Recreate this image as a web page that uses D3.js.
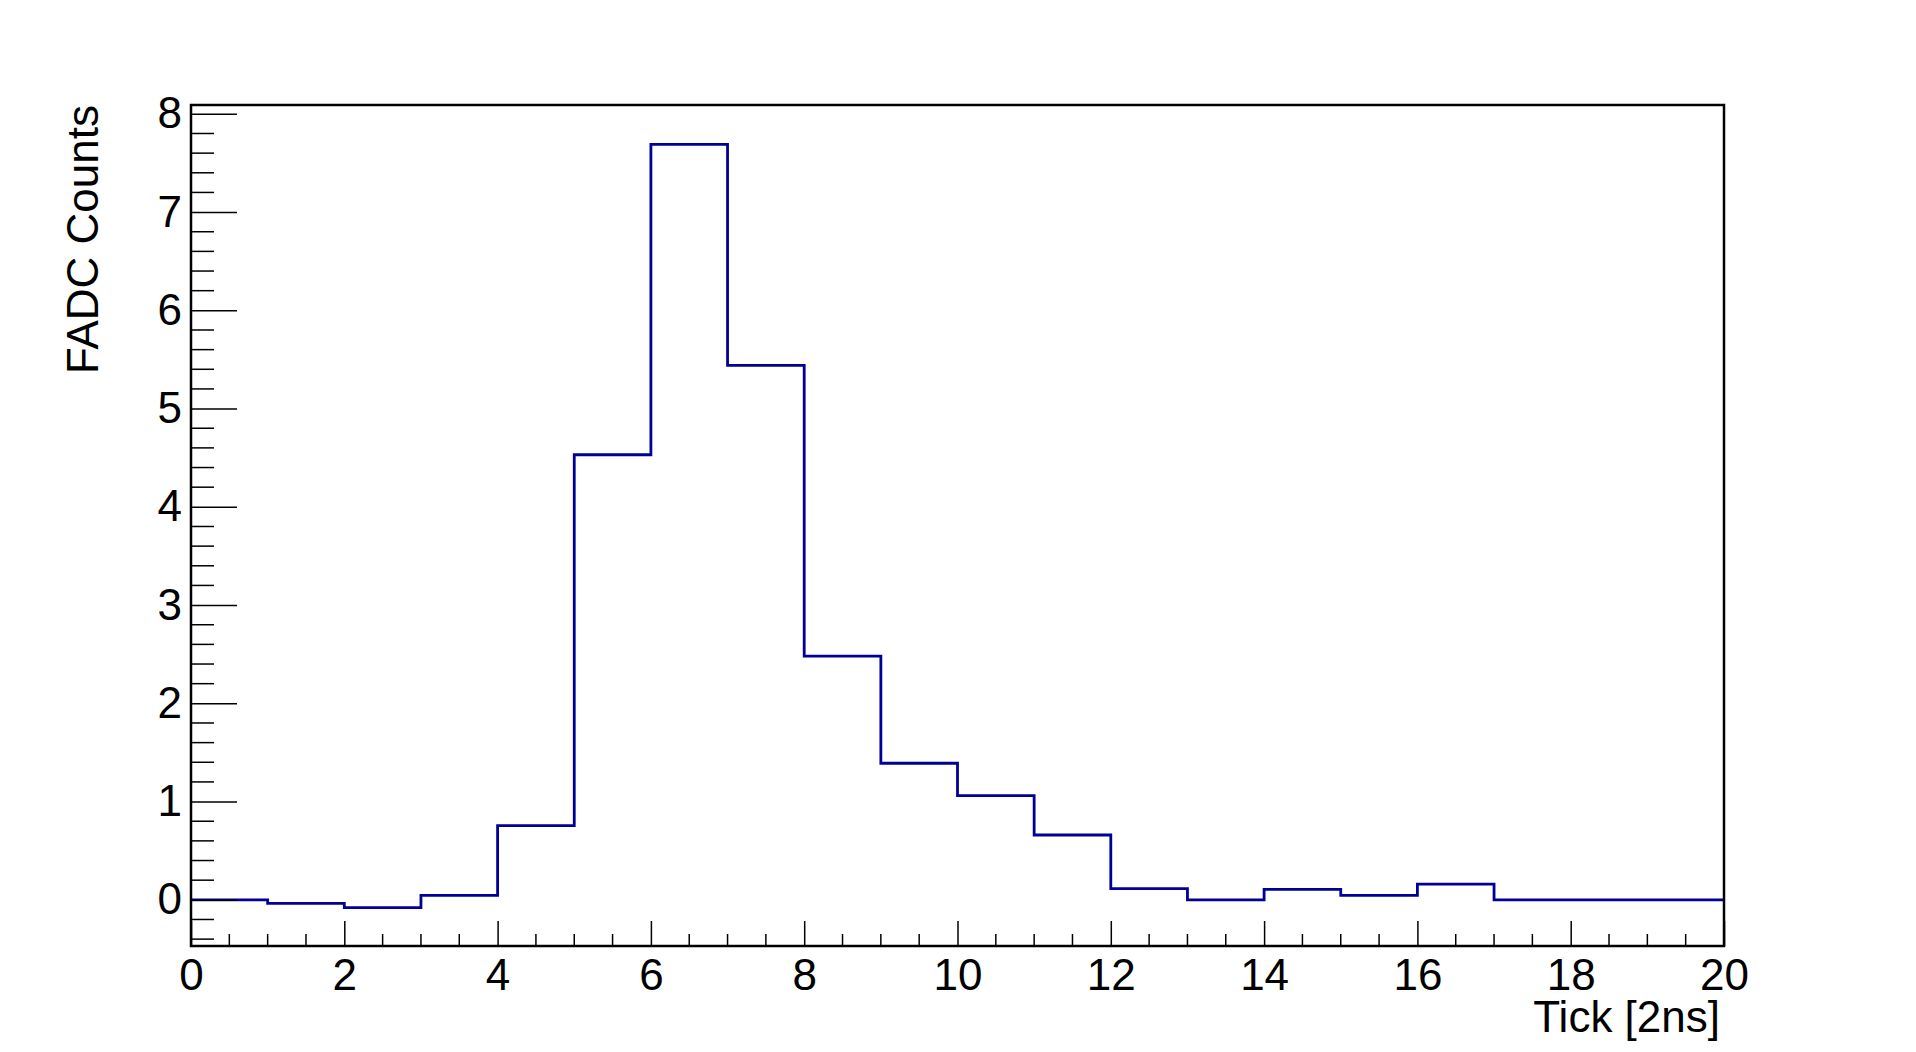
<!DOCTYPE html>
<html>
<head>
<meta charset="utf-8">
<script src="https://cdn.jsdelivr.net/npm/d3@7"></script>
<style>
  html, body { margin: 0; padding: 0; background: #fff; }
  text { font-family: "Liberation Sans", Arial, Helvetica, sans-serif; fill: #000; }
</style>
</head>
<body>
<div id="chart"></div>
<script>
// Histogram data (bin low edges, bin width 1)
const binLow = [0, 1, 2, 3, 4, 5, 6, 7, 8, 9, 10, 11, 12, 13, 14, 15, 16, 17, 18, 19];
const counts = [0, -0.036, -0.08, 0.046, 0.755, 4.53, 7.69, 5.44, 2.48, 1.39,
                1.06, 0.66, 0.114, 0, 0.107, 0.046, 0.16, 0, 0, 0];
const xTicks = [0, 2, 4, 6, 8, 10, 12, 14, 16, 18, 20];
const yTicks = [0, 1, 2, 3, 4, 5, 6, 7, 8];
const xTitle = "Tick [2ns]";
const yTitle = "FADC Counts";

// Base variables
const w = 1916;
const h = 1052;
const frameLeft = 191, frameRight = 1724, frameTop = 105, frameBottom = 946;
const fontSize = 44;
const lineColor = "#000099";

// Scales
const xScale = d3.scaleLinear().domain([0, 20]).range([frameLeft, frameRight]);
const yScale = d3.scaleLinear().domain([-0.47, 8.09]).range([frameBottom, frameTop]);

const svg = d3
  .select("#chart")
  .append("svg")
  .attr("width", w)
  .attr("height", h)
  .style("display", "block");

svg.append("rect").attr("width", w).attr("height", h).attr("fill", "#fff");

// histogram outline
const points = binLow.map((d, i) => [d, counts[i]]);
points.push([binLow[binLow.length - 1] + 1, counts[counts.length - 1]]);

const line = d3
  .line()
  .x(d => xScale(d[0]))
  .y(d => yScale(d[1]))
  .curve(d3.curveStepAfter);

svg
  .append("path")
  .datum(points)
  .attr("d", line)
  .attr("fill", "none")
  .attr("stroke", lineColor)
  .attr("stroke-width", 2.8);

// minor ticks
const xMinor = d3.range(0, 20.001, 0.5).filter(v => v % 2 !== 0);
const yMinor = d3.range(-0.4, 8.01, 0.2).filter(v => Math.abs(v - Math.round(v)) > 1e-6);

// x-axis (ticks point up, inside the frame)
const xAxis = svg
  .append("g")
  .attr("id", "x-axis")
  .attr("transform", `translate(0, ${frameBottom})`);

xAxis
  .call(d3.axisBottom(xScale).tickValues(xTicks).tickSize(-25).tickPadding(0).tickFormat(d3.format("d")))
  .call(g => g.select(".domain").remove());

xAxis.selectAll(".tick line").attr("stroke", "#000").attr("stroke-width", 1.5);
xAxis
  .selectAll(".tick text")
  .attr("y", 44)
  .attr("dy", null)
  .style("font-size", fontSize + "px")
  .attr("font-family", null);

xAxis
  .selectAll(".minor")
  .data(xMinor)
  .enter()
  .append("line")
  .attr("class", "minor")
  .attr("x1", d => xScale(d))
  .attr("x2", d => xScale(d))
  .attr("y1", 0)
  .attr("y2", -12)
  .attr("stroke", "#000")
  .attr("stroke-width", 1.5);

// y-axis (ticks point right, inside the frame)
const yAxis = svg
  .append("g")
  .attr("id", "y-axis")
  .attr("transform", `translate(${frameLeft}, 0)`);

yAxis
  .call(d3.axisLeft(yScale).tickValues(yTicks).tickSize(-46).tickPadding(9).tickFormat(d3.format("d")))
  .call(g => g.select(".domain").remove());

yAxis.selectAll(".tick line").attr("stroke", "#000").attr("stroke-width", 1.5);
yAxis
  .selectAll(".tick text")
  .style("font-size", fontSize + "px")
  .attr("font-family", null);

yAxis
  .selectAll(".minor")
  .data(yMinor)
  .enter()
  .append("line")
  .attr("class", "minor")
  .attr("x1", 0)
  .attr("x2", 23)
  .attr("y1", d => yScale(d))
  .attr("y2", d => yScale(d))
  .attr("stroke", "#000")
  .attr("stroke-width", 1.5);

// frame
svg
  .append("rect")
  .attr("x", frameLeft)
  .attr("y", frameTop)
  .attr("width", frameRight - frameLeft)
  .attr("height", frameBottom - frameTop)
  .attr("fill", "none")
  .attr("stroke", "#000")
  .attr("stroke-width", 2.5);

// axis titles
svg
  .append("text")
  .attr("x", frameRight - 4)
  .attr("y", 1032)
  .attr("text-anchor", "end")
  .style("font-size", fontSize + "px")
  .text(xTitle);

svg
  .append("text")
  .attr("transform", `translate(98, ${frameTop}) rotate(-90)`)
  .attr("text-anchor", "end")
  .style("font-size", fontSize + "px")
  .text(yTitle);
</script>
</body>
</html>
